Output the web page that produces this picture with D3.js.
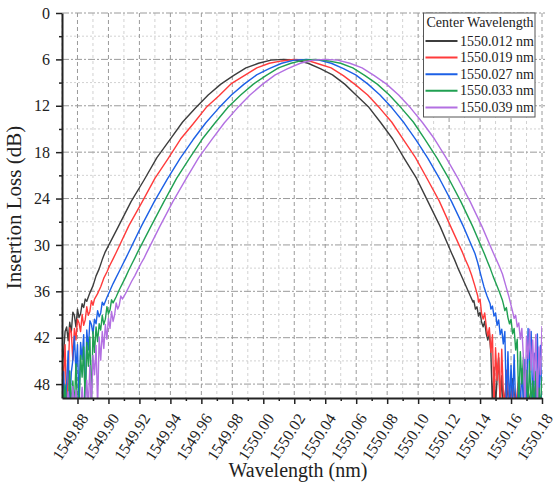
<!DOCTYPE html>
<html>
<head>
<meta charset="utf-8">
<script src="https://cdn.jsdelivr.net/npm/d3@7"></script>
<style>
  body { margin: 0; background: #fff; }
  svg { display: block; font-family: "Liberation Serif", "Times New Roman", serif; }
</style>
</head>
<body>
<div id="app"></div>
<script>
const OUTER = { width: 556, height: 491 };
const MARGIN = { top: 13, right: 14, bottom: 93, left: 62 };
const INNER = {
  width: OUTER.width - MARGIN.left - MARGIN.right,
  height: OUTER.height - MARGIN.top - MARGIN.bottom,
};

// tick values
const X_TICKS = [1549.88, 1549.90, 1549.92, 1549.94, 1549.96, 1549.98, 1550.00, 1550.02,
  1550.04, 1550.06, 1550.08, 1550.10, 1550.12, 1550.14, 1550.16, 1550.18];
const X_MINOR = [1549.87, 1549.89, 1549.91, 1549.93, 1549.95, 1549.97, 1549.99, 1550.01,
  1550.03, 1550.05, 1550.07, 1550.09, 1550.11, 1550.13, 1550.15, 1550.17];
const Y_TICKS = [0, 6, 12, 18, 24, 30, 36, 42, 48];
const Y_MINOR = [3, 9, 15, 21, 27, 33, 39, 45];

const NAMES = ["1550.012 nm", "1550.019 nm", "1550.027 nm", "1550.033 nm", "1550.039 nm"];
const COLORS = ["#3d3d3d", "#ff3b3b", "#1c60e6", "#20a052", "#b370e2"];

// [wavelength (nm), insertion loss (dB)]
const cw1550012 = [
  [1549.870,45.8],[1549.871,44.1],[1549.872,41.2],[1549.873,40.6],[1549.874,42.4],[1549.875,40.0],[1549.876,41.3],
  [1549.877,38.7],[1549.878,39.1],[1549.879,40.6],[1549.880,38.3],[1549.881,39.4],[1549.882,38.9],[1549.883,37.6],
  [1549.884,38.1],[1549.885,37.0],[1549.886,37.3],[1549.888,36.2],[1549.890,35.3],[1549.892,34.0],[1549.894,33.1],
  [1549.896,31.9],
  [1549.8977,31.0],[1549.9062,27.7],[1549.9146,24.4],[1549.9230,21.6],[1549.9313,18.7],[1549.9396,16.4],[1549.9479,14.1],
  [1549.9562,12.3],[1549.9644,10.6],[1549.9726,9.2],[1549.9807,8.1],[1549.9888,7.1],[1549.9969,6.5],[1550.0050,6.1],
  [1550.0130,6.0],[1550.0210,6.1],[1550.0289,6.5],[1550.0368,7.2],[1550.0447,8.0],[1550.0526,9.2],[1550.0604,10.7],
  [1550.0682,12.2],[1550.0759,14.2],[1550.0836,16.3],[1550.0913,18.9],[1550.0990,21.4],[1550.1066,24.5],[1550.1142,27.6],
  [1550.1217,31.1],
  [1550.1235,31.9],[1550.1255,32.9],[1550.1275,33.8],[1550.1295,34.7],[1550.1315,35.6],[1550.1335,36.5],[1550.1355,37.4],
  [1550.136,37.2],[1550.137,38.3],[1550.138,38.0],[1550.139,39.2],[1550.140,38.7],[1550.141,40.0],[1550.142,40.6],
  [1550.143,39.9],[1550.144,41.5],[1550.145,42.3],[1550.146,41.4],[1550.147,44.0],[1550.148,51.0],[1550.149,45.8],
  [1550.150,51.0],[1550.151,47.2],[1550.152,44.6],[1550.153,51.0],[1550.154,46.9],[1550.155,51.0],[1550.157,48.0],
  [1550.159,51.0],[1550.161,47.3],[1550.163,51.0],[1550.165,48.6],[1550.167,51.0],[1550.170,47.8],[1550.173,51.0],
  [1550.176,48.9],[1550.180,51.0],
];

const cw1550019 = [
  [1549.870,44.3],[1549.871,47.5],[1549.872,42.9],[1549.873,51.0],[1549.874,46.8],[1549.875,40.7],[1549.876,41.3],
  [1549.877,44.9],[1549.878,40.8],[1549.879,42.3],[1549.880,39.6],[1549.881,40.1],[1549.882,41.2],[1549.883,39.0],
  [1549.884,40.4],[1549.885,39.7],[1549.886,38.0],[1549.887,39.1],[1549.888,38.6],[1549.889,37.2],[1549.890,37.8],
  [1549.891,37.0],[1549.893,36.3],[1549.895,35.4],[1549.897,34.3],[1549.899,33.5],[1549.901,32.6],[1549.903,31.8],
  [1549.9047,31.1],[1549.9132,27.5],[1549.9216,24.5],[1549.9300,21.4],[1549.9383,18.9],[1549.9466,16.3],[1549.9549,14.3],
  [1549.9632,12.2],[1549.9714,10.7],[1549.9796,9.1],[1549.9877,8.1],[1549.9958,7.1],[1550.0039,6.5],[1550.0120,6.2],
  [1550.0200,6.0],[1550.0280,6.1],[1550.0359,6.6],[1550.0438,7.1],[1550.0517,8.1],[1550.0596,9.3],[1550.0674,10.6],
  [1550.0752,12.3],[1550.0829,14.1],[1550.0906,16.4],[1550.0983,18.7],[1550.1060,21.5],[1550.1136,24.3],[1550.1212,27.7],
  [1550.1287,31.0],
  [1550.1305,31.9],[1550.1325,32.8],[1550.1345,33.9],[1550.1365,35.2],[1550.1385,36.6],[1550.139,37.4],[1550.140,37.0],
  [1550.141,38.9],[1550.142,39.6],[1550.143,38.8],[1550.144,40.5],[1550.145,41.8],[1550.146,40.7],[1550.147,43.9],
  [1550.148,41.6],[1550.149,51.0],[1550.150,43.3],[1550.151,47.5],[1550.152,44.0],[1550.153,51.0],[1550.154,43.5],
  [1550.155,49.0],[1550.156,51.0],[1550.157,46.2],[1550.159,51.0],[1550.161,48.4],[1550.163,51.0],[1550.165,47.1],
  [1550.167,51.0],[1550.170,48.7],[1550.173,51.0],[1550.176,47.9],[1550.180,51.0],
];

const cw1550027 = [
  [1549.870,51.0],[1549.871,46.4],[1549.872,51.0],[1549.873,48.0],[1549.874,43.7],[1549.875,51.0],[1549.876,46.5],
  [1549.877,44.9],[1549.878,41.8],[1549.879,46.3],[1549.880,42.9],[1549.881,51.0],[1549.882,42.6],[1549.883,44.8],
  [1549.884,41.6],[1549.885,51.0],[1549.886,41.0],[1549.887,43.6],[1549.888,39.8],[1549.889,40.3],[1549.890,41.5],
  [1549.891,39.6],[1549.892,40.2],[1549.893,38.5],[1549.894,39.3],[1549.895,38.8],[1549.896,37.4],[1549.897,37.8],
  [1549.899,36.8],[1549.901,35.9],[1549.903,35.0],[1549.905,34.2],[1549.907,33.4],[1549.909,32.6],[1549.911,31.8],
  [1549.9127,31.1],[1549.9212,27.6],[1549.9296,24.4],[1549.9380,21.5],[1549.9463,18.8],[1549.9546,16.4],[1549.9629,14.2],
  [1549.9712,12.3],[1549.9794,10.6],[1549.9876,9.2],[1549.9957,8.0],[1550.0038,7.2],[1550.0119,6.5],[1550.0200,6.1],
  [1550.0280,6.0],[1550.0360,6.1],[1550.0439,6.5],[1550.0518,7.2],[1550.0597,8.0],[1550.0676,9.2],[1550.0754,10.6],
  [1550.0832,12.3],[1550.0909,14.2],[1550.0986,16.4],[1550.1063,18.8],[1550.1140,21.5],[1550.1216,24.4],[1550.1292,27.6],
  [1550.1367,31.1],
  [1550.1385,32.3],[1550.1405,33.9],[1550.1425,35.4],[1550.1445,36.6],[1550.1465,37.6],[1550.147,38.3],[1550.148,37.9],
  [1550.149,39.2],[1550.150,38.8],[1550.151,40.4],[1550.152,39.7],[1550.153,41.6],[1550.154,40.9],[1550.155,42.8],
  [1550.156,41.2],[1550.157,51.0],[1550.158,43.8],[1550.159,51.0],[1550.160,45.6],[1550.161,51.0],[1550.162,44.2],
  [1550.163,51.0],[1550.164,51.0],[1550.165,47.5],[1550.166,51.0],[1550.167,46.0],[1550.168,51.0],[1550.169,44.8],
  [1550.170,51.0],[1550.171,40.8],[1550.172,46.5],[1550.173,41.2],[1550.174,51.0],[1550.175,44.0],[1550.176,51.0],
  [1550.177,41.5],[1550.178,51.0],[1550.179,43.0],[1550.180,51.0],
];

const cw1550033 = [
  [1549.870,47.2],[1549.871,51.0],[1549.872,48.1],[1549.873,51.0],[1549.874,51.0],[1549.875,46.3],[1549.876,51.0],
  [1549.877,47.6],[1549.878,51.0],[1549.879,45.4],[1549.880,51.0],[1549.881,51.0],[1549.882,44.3],[1549.883,47.1],
  [1549.884,43.2],[1549.885,51.0],[1549.886,42.6],[1549.887,45.7],[1549.888,41.9],[1549.889,51.0],[1549.890,41.2],
  [1549.891,43.9],[1549.892,40.6],[1549.893,42.5],[1549.894,40.2],[1549.895,41.0],[1549.896,39.1],[1549.897,40.3],
  [1549.898,39.6],[1549.899,38.0],[1549.900,38.9],[1549.901,38.4],[1549.902,37.1],[1549.903,37.5],[1549.905,36.7],
  [1549.907,35.8],[1549.909,35.0],[1549.911,34.2],[1549.913,33.3],[1549.915,32.5],[1549.917,31.7],
  [1549.9187,31.0],[1549.9272,27.7],[1549.9356,24.5],[1549.9440,21.4],[1549.9523,18.8],[1549.9606,16.3],[1549.9689,14.2],
  [1549.9772,12.2],[1549.9854,10.6],[1549.9936,9.2],[1550.0017,8.1],[1550.0098,7.1],[1550.0179,6.5],[1550.0260,6.1],
  [1550.0340,6.0],[1550.0420,6.2],[1550.0499,6.5],[1550.0578,7.1],[1550.0657,8.1],[1550.0736,9.2],[1550.0814,10.6],
  [1550.0892,12.3],[1550.0969,14.1],[1550.1046,16.4],[1550.1123,18.8],[1550.1200,21.5],[1550.1276,24.4],[1550.1352,27.6],
  [1550.1427,31.1],
  [1550.1445,32.0],[1550.1465,33.0],[1550.1485,34.1],[1550.1505,35.1],[1550.1525,36.1],[1550.1545,37.2],[1550.155,37.6],
  [1550.156,38.5],[1550.157,38.1],[1550.158,39.4],[1550.159,40.2],[1550.160,39.6],[1550.161,41.5],[1550.162,40.8],
  [1550.163,43.6],[1550.164,42.2],[1550.165,51.0],[1550.166,43.8],[1550.167,48.0],[1550.168,44.5],[1550.169,51.0],
  [1550.170,46.2],[1550.171,51.0],[1550.172,45.0],[1550.173,51.0],[1550.174,47.6],[1550.175,51.0],[1550.176,46.4],
  [1550.177,51.0],[1550.178,48.5],[1550.179,51.0],[1550.180,47.0],
];

const cw1550039 = [
  [1549.870,51.0],[1549.873,51.0],[1549.874,49.0],[1549.875,51.0],[1549.876,51.0],[1549.877,48.3],[1549.878,51.0],
  [1549.879,48.8],[1549.880,51.0],[1549.881,51.0],[1549.882,51.0],[1549.883,48.4],[1549.884,51.0],[1549.885,51.0],
  [1549.886,47.5],[1549.887,51.0],[1549.888,45.6],[1549.889,51.0],[1549.890,44.3],[1549.891,46.8],[1549.892,43.0],
  [1549.893,51.0],[1549.894,41.9],[1549.895,44.9],[1549.896,41.2],[1549.897,43.4],[1549.898,40.3],[1549.899,42.2],
  [1549.900,39.5],[1549.901,40.8],[1549.902,38.6],[1549.903,39.9],[1549.904,39.0],[1549.905,37.5],[1549.906,38.3],
  [1549.907,37.8],[1549.908,36.6],[1549.909,37.0],[1549.911,36.3],[1549.913,35.5],[1549.915,34.7],[1549.917,34.0],
  [1549.919,33.2],[1549.921,32.4],[1549.923,31.7],
  [1549.9247,31.0],[1549.9332,27.6],[1549.9416,24.4],[1549.9500,21.5],[1549.9583,18.7],[1549.9666,16.4],[1549.9749,14.2],
  [1549.9832,12.3],[1549.9914,10.6],[1549.9996,9.2],[1550.0077,8.0],[1550.0158,7.2],[1550.0239,6.5],[1550.0320,6.1],
  [1550.0400,6.0],[1550.0480,6.1],[1550.0559,6.5],[1550.0638,7.1],[1550.0717,8.1],[1550.0796,9.2],[1550.0874,10.6],
  [1550.0952,12.3],[1550.1029,14.2],[1550.1106,16.3],[1550.1183,18.8],[1550.1260,21.5],[1550.1336,24.4],[1550.1412,27.6],
  [1550.1487,31.1],
  [1550.1505,31.9],[1550.1525,32.8],[1550.1545,33.8],[1550.1565,35.2],[1550.1585,36.6],[1550.1605,38.2],[1550.161,38.6],
  [1550.162,39.5],[1550.163,39.1],[1550.164,40.6],[1550.165,40.1],[1550.166,42.2],[1550.167,40.8],[1550.168,44.6],
  [1550.169,51.0],[1550.170,41.8],[1550.171,44.7],[1550.172,40.9],[1550.173,46.2],[1550.174,42.3],[1550.175,47.5],
  [1550.176,41.6],[1550.177,51.0],[1550.178,43.2],[1550.179,46.8],[1550.180,40.5],
];

const SERIES = [cw1550012, cw1550019, cw1550027, cw1550033, cw1550039];

const xScale = d3.scaleLinear()
  .domain([1549.870, 1550.180])
  .range([0, INNER.width]);

const yScale = d3.scaleLinear()
  .domain([0, 49.8])
  .range([0, INNER.height]);

const line = d3.line()
  .x(d => xScale(d[0]))
  .y(d => yScale(d[1]));

const addGrid = chart => {
  const grid = chart.append('g').attr('class', 'grid');
  const vlines = (vals, color, dash) => grid.append('g').selectAll('line')
    .data(vals).join('line')
    .attr('x1', d => xScale(d)).attr('x2', d => xScale(d))
    .attr('y1', 0).attr('y2', INNER.height)
    .attr('stroke', color).attr('stroke-dasharray', dash);
  const hlines = (vals, color, dash) => grid.append('g').selectAll('line')
    .data(vals).join('line')
    .attr('x1', 0).attr('x2', INNER.width + 3)
    .attr('y1', d => yScale(d)).attr('y2', d => yScale(d))
    .attr('stroke', color).attr('stroke-dasharray', dash);
  vlines(X_MINOR, '#d2d2d2', '3,3');
  hlines(Y_MINOR, '#d2d2d2', '2,2');
  vlines(X_TICKS, '#9a9a9a', '4,3');
  hlines(Y_TICKS, '#9a9a9a', '7,2,2,2');
}

const addLines = chart => {
  chart.append('clipPath').attr('id', 'plot-clip')
    .append('rect').attr('width', INNER.width).attr('height', INNER.height);
  chart.append('g').attr('clip-path', 'url(#plot-clip)')
    .selectAll('path')
    .data(SERIES).join('path')
    .attr('fill', 'none')
    .attr('stroke', (d, i) => COLORS[i])
    .attr('stroke-width', 1.4)
    .attr('stroke-linejoin', 'round')
    .attr('d', d => line(d3.sort(d, p => p[0])));
}

const styleAxis = g => {
  g.selectAll('.domain').attr('stroke', '#222').attr('stroke-width', 2);
  g.selectAll('.tick line').attr('stroke', '#222').attr('stroke-width', 1.5);
  g.selectAll('text').attr('font-size', 16).attr('fill', '#222')
    .attr('font-family', '"Liberation Serif", "Times New Roman", serif');
}

const addAxes = chart => {
  chart.append('g')
    .call(d3.axisLeft(yScale).tickValues(Y_MINOR).tickSize(3).tickFormat(''))
    .call(g => g.select('.domain').remove())
    .call(styleAxis);
  chart.append('g')
    .attr('transform', `translate(0, ${INNER.height})`)
    .call(d3.axisBottom(xScale).tickValues(X_MINOR.slice(1)).tickSize(3).tickFormat(''))
    .call(g => g.select('.domain').remove())
    .call(styleAxis);

  chart.append('g')
    .attr('class', 'y-axis')
    .call(d3.axisLeft(yScale).tickValues(Y_TICKS).tickSize(6).tickSizeOuter(0).tickPadding(6))
    .call(styleAxis);

  chart.append('g')
    .attr('class', 'x-axis')
    .attr('transform', `translate(0, ${INNER.height})`)
    .call(d3.axisBottom(xScale).tickValues(X_TICKS).tickSize(6).tickSizeOuter(0)
      .tickFormat(d3.format('.2f')))
    .call(styleAxis)
    .call(g => g.selectAll('.tick text')
      .attr('x', 0).attr('y', 0).attr('dy', 0)
      .attr('text-anchor', 'end')
      .attr('transform', 'translate(11, 20) rotate(-57)'));

  chart.append('text')
    .attr('transform', `translate(${-41}, ${INNER.height / 2 + 2}) rotate(-90)`)
    .attr('text-anchor', 'middle')
    .attr('font-size', 21)
    .attr('fill', '#222')
    .text('Insertion Loss (dB)');

  chart.append('text')
    .attr('x', INNER.width / 2 - 4)
    .attr('y', INNER.height + 79)
    .attr('text-anchor', 'middle')
    .attr('font-size', 20)
    .attr('fill', '#222')
    .text('Wavelength (nm)');
}

const addLegend = chart => {
  const legend = chart.append('g')
    .attr('transform', `translate(${INNER.width - 118.5}, 0)`);
  legend.append('rect')
    .attr('width', 111.5).attr('height', 104)
    .attr('fill', '#fff').attr('stroke', '#555').attr('stroke-width', 1);
  legend.append('text')
    .attr('x', 3).attr('y', 14)
    .attr('font-size', 14).attr('fill', '#222')
    .text('Center Wavelength');
  const rows = legend.selectAll('.row')
    .data(NAMES).join('g')
    .attr('class', 'row')
    .attr('transform', (d, i) => `translate(0, ${28 + i * 16.6})`);
  rows.append('line')
    .attr('x1', 2).attr('x2', 34)
    .attr('stroke', (d, i) => COLORS[i]).attr('stroke-width', 2);
  rows.append('text')
    .attr('x', 36.5).attr('y', 4.5)
    .attr('font-size', 14).attr('fill', '#222')
    .text(d => d);
}

const init = () => {
  const svg = d3.select('#app')
    .append('svg')
    .attr('width', OUTER.width)
    .attr('height', OUTER.height);
  const chart = svg.append('g')
    .attr('transform', `translate(${MARGIN.left}, ${MARGIN.top})`);
  addGrid(chart);
  addLines(chart);
  addAxes(chart);
  addLegend(chart);
}

init();
</script>
</body>
</html>
